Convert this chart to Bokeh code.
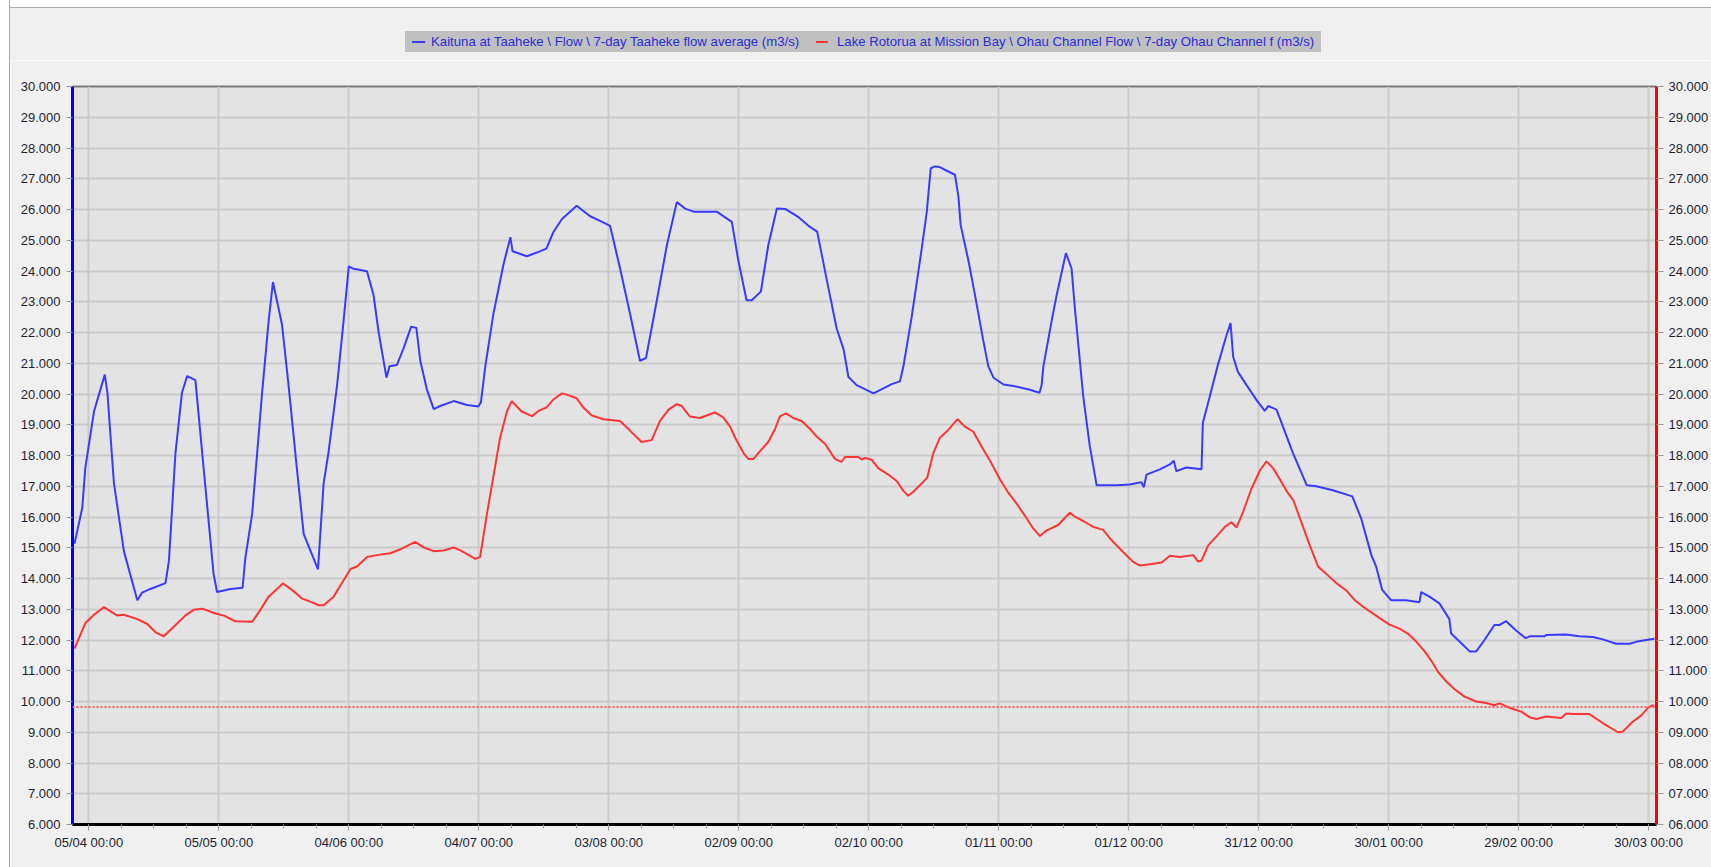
import pandas as pd
from bokeh.plotting import figure
from bokeh.layouts import column, row
from bokeh.models import (Range1d, LinearAxis, FixedTicker, DatetimeTickFormatter,
                          PrintfTickFormatter, Span, Div)
from bokeh.embed import file_html
from bokeh.resources import INLINE

# ---------------- data ----------------
base_date = "2023-04-05"

kaituna_days = [-3.3, -1.5, -0.8, 1.2, 3.7, 4.3, 5.8, 8.1, 11.2, 12.3, 14.2, 17.7, 18.5, 20.0, 21.5, 22.7,
                24.6, 26.5, 28.8, 29.6, 32.7, 35.5, 36.1, 37.7, 40.0, 41.5, 42.5, 44.6, 46.1, 48.1, 49.6,
                52.9, 54.2, 55.3, 57.3, 58.8, 60.0, 61.1, 64.2, 65.7, 66.9, 68.7, 69.4, 71.1, 72.7, 74.4,
                75.6, 76.5, 78.0, 79.6, 81.1, 84.2, 87.3, 89.9, 90.5, 91.5, 93.4, 95.7, 97.3, 97.8, 101.1,
                103.4, 105.6, 107.2, 109.2, 112.6, 115.7, 118.0, 120.3, 122.6, 124.9, 127.2, 128.6, 131.1,
                133.4, 135.7, 137.6, 139.6, 144.9, 148.4, 149.9, 151.8, 153.0, 155.1, 156.8, 158.8, 160.7,
                163.8, 166.1, 168.1, 170.3, 172.6, 174.2, 175.3, 177.2, 181.1, 185.3, 187.2, 188.0, 189.9,
                192.2, 193.4, 194.3, 195.3, 196.4, 198.0, 199.9, 200.7, 201.2, 203.0, 204.5, 206.4, 207.6,
                208.8, 211.1, 213.4, 217.2, 219.4, 219.9, 220.3, 222.2, 223.3, 225.5, 226.8, 227.6, 229.5,
                231.0, 232.6, 233.3, 237.2, 240.2, 242.9, 243.5, 244.1, 247.2, 249.5, 250.4, 251.0, 253.3,
                256.8, 257.1, 258.7, 260.6, 262.5, 263.5, 264.1, 265.2, 267.2, 269.5, 271.4, 272.2, 274.1,
                275.6, 277.9, 281.1, 283.3, 287.1, 291.6, 293.7, 296.0, 297.1, 298.5, 300.6, 304.0, 307.1,
                307.5, 309.4, 311.7, 314.0, 314.4, 316.7, 318.7, 320.2, 322.1, 324.4, 325.6, 327.1, 329.4,
                331.6, 332.5, 336.0, 336.3, 340.9, 344.0, 347.1, 349.4, 352.5, 355.6, 357.1, 359.4, 361.3]
kaituna_flow = [15.13, 16.3, 17.6, 19.43, 20.63, 20.04, 17.1, 14.89, 13.29, 13.54, 13.66, 13.85, 14.58, 18.08,
                20.04, 20.58, 20.45, 17.59, 14.15, 13.56, 13.66, 13.7, 14.64, 16.1, 20.04, 22.37, 23.64,
                22.25, 20.29, 17.47, 15.44, 14.3, 17.1, 18.08, 20.29, 22.37, 24.15, 24.07, 23.99, 23.23,
                22.0, 20.53, 20.9, 20.94, 21.51, 22.19, 22.15, 21.08, 20.16, 19.51, 19.61, 19.77, 19.64,
                19.59, 19.73, 20.9, 22.62, 24.21, 25.1, 24.64, 24.48, 24.6, 24.73, 25.26, 25.69, 26.12,
                25.78, 25.63, 25.47, 24.09, 22.62, 21.08, 21.17, 23.05, 24.83, 26.24, 26.03, 25.93, 25.93,
                25.6, 24.34, 23.05, 23.05, 23.33, 24.83, 26.03, 26.02, 25.75, 25.47, 25.28, 23.72, 22.13,
                21.45, 20.56, 20.29, 20.02, 20.32, 20.41, 20.9, 22.5, 24.7, 25.93, 27.34, 27.4, 27.38,
                27.26, 27.13, 26.42, 25.5, 24.34, 23.23, 21.76, 20.9, 20.53, 20.31, 20.26, 20.14, 20.04,
                20.29, 20.9, 22.37, 23.17, 24.58, 24.09, 22.74, 19.92, 18.32, 17.03, 17.03, 17.03, 17.06,
                17.13, 16.97, 17.38, 17.55, 17.71, 17.83, 17.49, 17.61, 17.55, 19.06, 19.92, 20.96, 21.88,
                22.31, 21.21, 20.72, 20.29, 19.8, 19.45, 19.61, 19.49, 18.94, 18.08, 17.03, 17.0, 16.87,
                16.67, 15.93, 14.76, 14.39, 13.63, 13.29, 13.29, 13.23, 13.56, 13.41, 13.19, 12.68, 12.21,
                11.9, 11.63, 11.63, 12.0, 12.49, 12.49, 12.61, 12.31, 12.06, 12.12, 12.12, 12.16, 12.18,
                12.12, 12.1, 12.02, 11.88, 11.88, 11.94, 12.0, 12.04]

ohau_days = [-3.3, -0.8, 1.2, 3.5, 6.5, 8.1, 11.2, 13.5, 15.4, 17.3, 19.6, 22.3, 24.2, 26.2, 29.2, 31.1,
             33.8, 37.7, 39.6, 41.5, 44.8, 46.9, 49.2, 51.1, 53.1, 54.2, 56.5, 58.1, 60.4, 61.9, 64.2,
             66.5, 69.6, 71.9, 75.3, 77.3, 79.6, 81.9, 84.2, 86.1, 89.2, 90.3, 91.9, 93.4, 94.9, 96.5,
             97.6, 99.9, 102.3, 103.8, 105.7, 107.2, 109.2, 110.3, 112.6, 114.2, 116.1, 118.8, 122.6,
             124.9, 127.6, 129.9, 131.8, 133.8, 135.7, 136.8, 138.7, 141.0, 144.5, 146.4, 148.0, 149.2,
             151.1, 152.2, 153.4, 154.9, 156.8, 158.4, 159.5, 160.9, 162.6, 164.5, 166.4, 167.9, 169.9,
             172.2, 173.7, 174.5, 177.6, 178.4, 179.2, 180.7, 182.2, 184.5, 186.4, 188.0, 189.1, 190.3,
             191.8, 193.5, 194.9, 196.4, 198.4, 200.5, 202.2, 204.1, 206.4, 208.0, 210.3, 212.2, 214.1,
             216.0, 218.0, 219.5, 221.0, 223.7, 226.4, 227.6, 229.5, 231.8, 234.1, 236.0, 238.7, 241.0,
             242.6, 244.9, 247.6, 249.5, 251.8, 254.9, 256.0, 256.8, 258.3, 260.3, 262.2, 263.7, 264.9,
             266.4, 268.3, 270.3, 271.8, 273.3, 274.9, 276.4, 278.0, 279.9, 281.8, 283.7, 285.6, 288.0,
             290.3, 292.2, 294.1, 296.4, 298.7, 300.2, 302.5, 304.4, 306.4, 308.3, 309.8, 311.4, 313.3,
             315.2, 317.5, 320.2, 322.5, 324.4, 325.6, 327.9, 330.6, 332.5, 334.1, 336.3, 339.8, 341.0,
             342.5, 346.3, 349.4, 352.9, 354.0, 356.3, 358.3, 359.8, 360.9, 361.3]
ohau_flow = [11.72, 12.55, 12.82, 13.07, 12.8, 12.82, 12.68, 12.52, 12.25, 12.12, 12.43, 12.8, 12.98, 13.02,
             12.86, 12.8, 12.61, 12.59, 12.98, 13.41, 13.84, 13.63, 13.35, 13.25, 13.13, 13.13, 13.41,
             13.78, 14.31, 14.39, 14.7, 14.76, 14.82, 14.95, 15.19, 15.01, 14.89, 14.91, 15.01, 14.89,
             14.64, 14.7, 16.11, 17.34, 18.57, 19.43, 19.77, 19.43, 19.28, 19.45, 19.57, 19.82, 20.02,
             19.98, 19.86, 19.55, 19.3, 19.18, 19.12, 18.81, 18.44, 18.5, 19.12, 19.49, 19.67, 19.61,
             19.27, 19.22, 19.4, 19.24, 18.94, 18.57, 18.08, 17.89, 17.89, 18.14, 18.44, 18.87, 19.27,
             19.37, 19.22, 19.12, 18.87, 18.63, 18.38, 17.89, 17.79, 17.95, 17.95, 17.87, 17.92, 17.86,
             17.59, 17.38, 17.18, 16.85, 16.69, 16.82, 17.03, 17.28, 18.08, 18.57, 18.84, 19.18, 18.94,
             18.78, 18.2, 17.83, 17.22, 16.79, 16.44, 16.05, 15.62, 15.38, 15.56, 15.74, 16.14, 16.01,
             15.87, 15.68, 15.58, 15.25, 14.86, 14.54, 14.42, 14.46, 14.52, 14.74, 14.7, 14.76, 14.55,
             14.58, 15.07, 15.38, 15.68, 15.83, 15.66, 16.17, 16.91, 17.52, 17.81, 17.59, 17.22, 16.85,
             16.54, 15.81, 15.07, 14.39, 14.15, 13.84, 13.6, 13.29, 13.08, 12.86, 12.64, 12.5, 12.37,
             12.21, 11.94, 11.63, 11.33, 10.96, 10.65, 10.4, 10.16, 10.0, 9.95, 9.88, 9.94, 9.79, 9.67,
             9.49, 9.43, 9.51, 9.46, 9.61, 9.59, 9.59, 9.3, 9.0, 9.02, 9.34, 9.55, 9.79, 9.88, 9.83]

ohau_threshold = 9.82

x_tick_dates = ["2023-04-05", "2023-05-05", "2023-06-04", "2023-07-04", "2023-08-03", "2023-09-02",
                "2023-10-02", "2023-11-01", "2023-12-01", "2023-12-31", "2024-01-30", "2024-02-29",
                "2024-03-30"]
y_ticks = list(range(6, 31))

legend_labels = ["Kaituna at Taaheke \\ Flow \\ 7-day Taaheke flow average (m3/s)",
                 "Lake Rotorua at Mission Bay \\ Ohau Channel Flow \\ 7-day Ohau Channel f (m3/s)"]
series_colors = ["#3a3aff", "#ff3535"]

# ---------------- build ----------------
base = pd.Timestamp(base_date)
kx = [base + pd.Timedelta(days=d) for d in kaituna_days]
ox = [base + pd.Timedelta(days=d) for d in ohau_days]

x_start = base - pd.Timedelta(days=3.76)
x_end = base + pd.Timedelta(days=361.8)

FONT = "Liberation Sans"
LABEL_COL = "#1e1e30"
HEADER_H = 60
EDGE_W = 10
TOTAL_W, TOTAL_H = 1711, 867

p = figure(x_axis_type="datetime", width=TOTAL_W - EDGE_W, height=TOTAL_H - HEADER_H,
           x_range=Range1d(x_start, x_end), y_range=Range1d(6, 30),
           output_backend="svg", toolbar_location=None,
           background_fill_color="#e3e3e3", border_fill_color="#f0f0f0",
           min_border_left=72 - EDGE_W, min_border_right=54, min_border_top=86 - HEADER_H,
           min_border_bottom=43)
p.outline_line_color = "#7a7a7a"
p.outline_line_width = 2

def ms(ts):
    return pd.Timestamp(ts).value // 10**6

major = [ms(d) for d in x_tick_dates]
minor = []
for a, b in zip(major[:-1], major[1:]):
    for k in range(4):
        minor.append(a + (b - a) * k / 4)
minor.append(major[-1])

xax = p.xaxis[0]
xax.ticker = FixedTicker(ticks=major, minor_ticks=minor)
fmt = "%d/%m %H:%M"
xax.formatter = DatetimeTickFormatter(microseconds=fmt, milliseconds=fmt, seconds=fmt, minsec=fmt,
                                      minutes=fmt, hourmin=fmt, hours=fmt, days=fmt, months=fmt, years=fmt)
xax.axis_line_color = "black"
xax.axis_line_width = 3
xax.major_tick_out = 6
xax.major_tick_in = 0
xax.minor_tick_out = 4
xax.minor_tick_in = 0
xax.major_tick_line_color = "#9a9a9a"
xax.minor_tick_line_color = "#9a9a9a"
xax.major_label_standoff = 4
xax.major_label_text_font = FONT
xax.major_label_text_font_size = "13px"
xax.major_label_text_color = LABEL_COL

yax = p.yaxis[0]
yax.ticker = FixedTicker(ticks=y_ticks)
yax.formatter = PrintfTickFormatter(format="%.3f")
yax.axis_line_color = "#0000ff"
yax.axis_line_width = 3
yax.major_tick_out = 6
yax.major_tick_in = 0
yax.minor_tick_line_color = None
yax.major_tick_line_color = "#9a9a9a"
yax.major_label_standoff = 6
yax.major_label_text_font = FONT
yax.major_label_text_font_size = "13px"
yax.major_label_text_color = LABEL_COL

rax = LinearAxis(ticker=FixedTicker(ticks=y_ticks), formatter=PrintfTickFormatter(format="%06.3f"))
rax.axis_line_color = "#ff0000"
rax.axis_line_width = 3
rax.major_tick_out = 7
rax.major_tick_in = 0
rax.minor_tick_line_color = None
rax.major_tick_line_color = "#9a9a9a"
rax.major_label_standoff = 5
rax.major_label_text_font = FONT
rax.major_label_text_font_size = "13px"
rax.major_label_text_color = LABEL_COL
p.add_layout(rax, "right")

p.xgrid.ticker = FixedTicker(ticks=major)
p.ygrid.ticker = FixedTicker(ticks=y_ticks)
p.xgrid.grid_line_color = "#cbcbcb"
p.ygrid.grid_line_color = "#cbcbcb"
p.xgrid.grid_line_width = 2
p.ygrid.grid_line_width = 2

thr = Span(location=ohau_threshold, dimension="width", line_color="#ff6060",
           line_dash="2 2", line_width=2)
p.add_layout(thr)

p.line(kx, kaituna_flow, line_color=series_colors[0], line_width=2)
p.line(ox, ohau_flow, line_color=series_colors[1], line_width=2)

# legend strip above the plot (HTML so it is not clipped by the plot frame)
def swatch(color, left, width):
    return (f'<span style="position:absolute;left:{left}px;top:10px;width:{width}px;height:2px;'
            f'background:{color};"></span>')

def label(text, left):
    return (f'<span style="position:absolute;left:{left}px;top:0px;line-height:21px;">{text}</span>')

legend_html = (
    f'<div style="position:absolute;left:{405 - EDGE_W}px;top:31px;width:916px;height:21px;'
    'background:#c0c0c0;font-family:\'Liberation Sans\',Arial,sans-serif;font-size:13.2px;'
    'color:#2c2cd8;white-space:nowrap;">'
    + swatch(series_colors[0], 7, 13) + label(legend_labels[0], 26)
    + swatch(series_colors[1], 411, 12) + label(legend_labels[1], 432)
    + '</div>'
)
header = Div(text=legend_html, width=TOTAL_W - EDGE_W, height=HEADER_H, margin=0,
             styles={"background": "linear-gradient(to bottom, #ffffff 0px, #ffffff 7px, #a8a8a8 7px, "
                                   "#a8a8a8 8px, #f0f0f0 8px)",
                     "position": "relative"})
edge = Div(text="", width=EDGE_W, height=TOTAL_H, margin=0,
           styles={"background": "linear-gradient(to right, #ffffff 0px, #ffffff 9px, #a8a8a8 9px)"})

layout = row(edge, column(header, p, spacing=0), spacing=0)

open("out.html", "w").write(file_html(layout, INLINE))
